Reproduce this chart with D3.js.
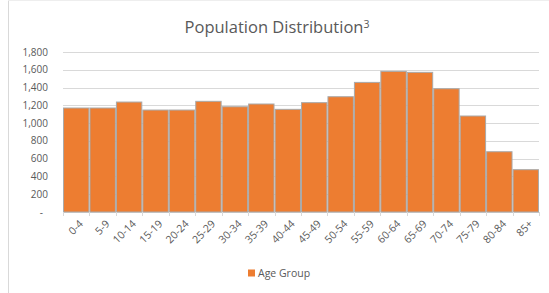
<!DOCTYPE html>
<html>
<head>
<meta charset="utf-8">
<script src="https://cdn.jsdelivr.net/npm/d3@7"></script>
<style>
  body { margin: 0; background: #fff; }
  text { font-family: "Open Sans", sans-serif; fill: #595959; }
</style>
</head>
<body>
<div id="chart"></div>
<script>
const ageGroups = ["0-4", "5-9", "10-14", "15-19", "20-24", "25-29", "30-34", "35-39", "40-44",
    "45-49", "50-54", "55-59", "60-64", "65-69", "70-74", "75-79", "80-84", "85+"];
const population = [1170, 1170, 1237, 1147, 1147, 1245, 1184, 1215, 1155,
    1230, 1297, 1458, 1582, 1571, 1387, 1080, 678, 476];
const yTicks = [0, 200, 400, 600, 800, 1000, 1200, 1400, 1600, 1800];

const width = 549, height = 293;
const margin = { top: 52, right: 10, bottom: 81, left: 63 };

const svg = d3.select("#chart").append("svg")
    .attr("width", width)
    .attr("height", height);

// chart frame edge
svg.append("line")
    .attr("x1", 8.5).attr("x2", 8.5)
    .attr("y1", 0).attr("y2", height)
    .attr("stroke", "#d9d9d9");
svg.append("line")
    .attr("x1", 8).attr("x2", width)
    .attr("y1", 0.5).attr("y2", 0.5)
    .attr("stroke", "#eeeeee");

const x = d3.scaleBand()
    .domain(ageGroups)
    .range([margin.left, width - margin.right])
    .paddingInner(0.04)
    .paddingOuter(0.02);

const y = d3.scaleLinear()
    .domain([0, 1800])
    .range([height - margin.bottom, margin.top]);

// grid
svg.append("g")
    .selectAll("line")
    .data(yTicks)
    .enter()
    .append("line")
    .attr("x1", margin.left)
    .attr("x2", width - margin.right)
    .attr("y1", d => Math.round(y(d)) + 0.5)
    .attr("y2", d => Math.round(y(d)) + 0.5)
    .attr("stroke", "#d9d9d9");

// y labels
svg.append("g")
    .selectAll("text")
    .data(yTicks)
    .enter()
    .append("text")
    .attr("x", d => d === 0 ? 43 : 48)
    .attr("y", d => y(d))
    .attr("dy", "0.35em")
    .attr("text-anchor", "end")
    .style("font-size", "10px")
    .text(d => d === 0 ? "-" : d3.format(",")(d));

// bars
svg.append("g")
    .selectAll("rect")
    .data(population)
    .enter()
    .append("rect")
    .attr("x", (d, i) => x(ageGroups[i]))
    .attr("y", d => y(d))
    .attr("width", x.bandwidth())
    .attr("height", d => y(0) - y(d))
    .attr("fill", "#ed7d31")
    .attr("stroke", "#a9a9a9")
    .attr("stroke-width", 1);

// x tick marks
const tickPos = d3.range(ageGroups.length + 1).map(i => margin.left + i * (width - margin.left - margin.right) / ageGroups.length);
svg.append("g")
    .selectAll("line")
    .data(tickPos)
    .enter()
    .append("line")
    .attr("x1", d => Math.round(d) + 0.5)
    .attr("x2", d => Math.round(d) + 0.5)
    .attr("y1", y(0))
    .attr("y2", y(0) + 4)
    .attr("stroke", "#d9d9d9");

// x labels
svg.append("g")
    .selectAll("text")
    .data(ageGroups)
    .enter()
    .append("text")
    .attr("transform", d => `translate(${x(d) + x.bandwidth() / 2 + 5},${y(0) + 10}) rotate(-45)`)
    .attr("text-anchor", "end")
    .attr("dy", "0.35em")
    .style("font-size", "10.5px")
    .text(d => d);

// title
const title = svg.append("text")
    .attr("x", 277)
    .attr("y", 33)
    .attr("text-anchor", "middle")
    .style("font-size", "16.5px");
title.append("tspan").text("Population Distribution");
title.append("tspan").attr("dy", "-0.45em").style("font-size", "10.5px").text("3");

// legend
const legend = svg.append("g").attr("transform", "translate(248,273)");
legend.append("rect")
    .attr("x", 0).attr("y", -3.5)
    .attr("width", 7).attr("height", 7)
    .attr("fill", "#ed7d31");
legend.append("text")
    .attr("x", 10)
    .attr("dy", "0.35em")
    .style("font-size", "10.5px")
    .text("Age Group");
</script>
</body>
</html>
